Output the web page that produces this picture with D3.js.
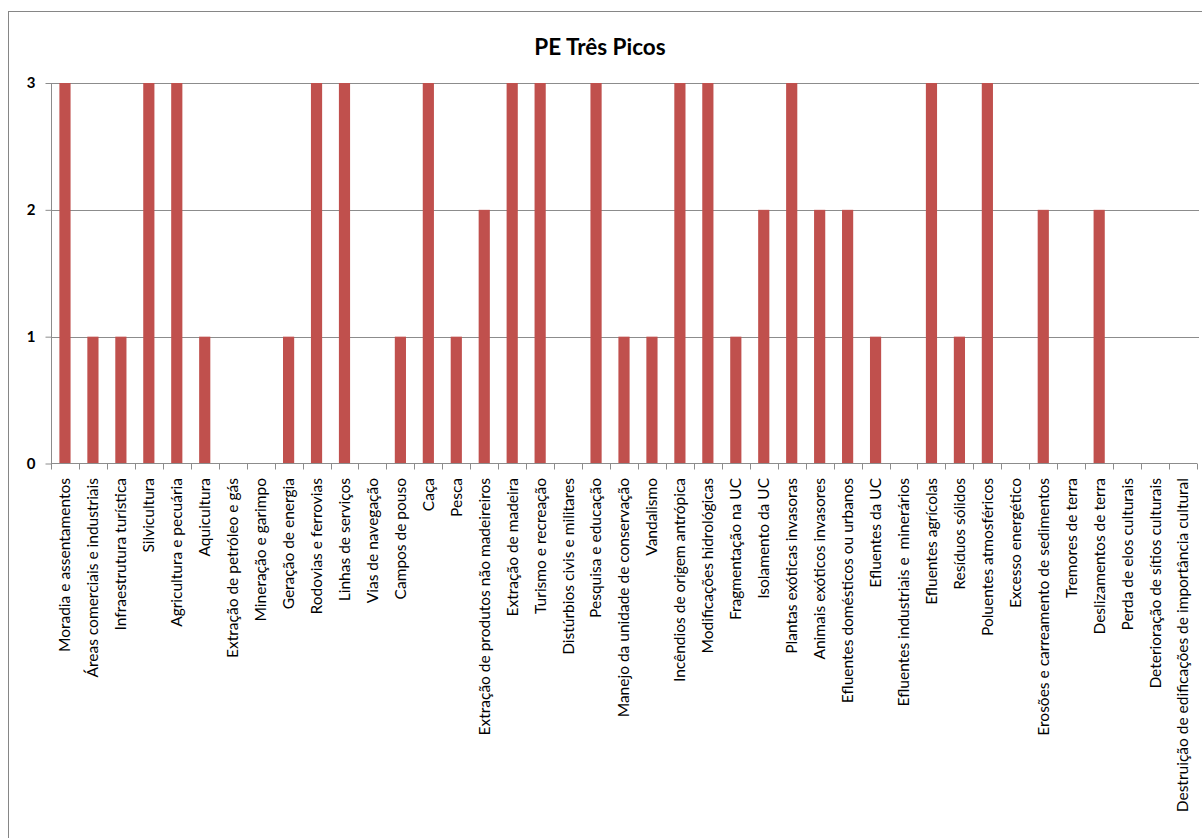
<!DOCTYPE html>
<html>
<head>
<meta charset="utf-8">
<script src="https://cdn.jsdelivr.net/npm/d3@7"></script>
<style>
  html, body { margin: 0; padding: 0; background: #fff; }
  svg { display: block; }
  text { font-family: Lato, "Open Sans", sans-serif; fill: #000; }
</style>
</head>
<body>
<svg id="chart" width="1202" height="838"></svg>
<script>
// Ameaças e intensidade (0–3) para o PE Três Picos
const categories = [
  "Moradia e assentamentos",
  "Áreas comerciais e industriais",
  "Infraestrutura turística",
  "Silvicultura",
  "Agricultura e pecuária",
  "Aquicultura",
  "Extração de petróleo e gás",
  "Mineração e garimpo",
  "Geração de energia",
  "Rodovias e ferrovias",
  "Linhas de serviços",
  "Vias de navegação",
  "Campos de pouso",
  "Caça",
  "Pesca",
  "Extração de produtos não madeireiros",
  "Extração de madeira",
  "Turismo e recreação",
  "Distúrbios civis e militares",
  "Pesquisa e educação",
  "Manejo da unidade de conservação",
  "Vandalismo",
  "Incêndios de origem antrópica",
  "Modificações hidrológicas",
  "Fragmentação na UC",
  "Isolamento da UC",
  "Plantas exóticas invasoras",
  "Animais exóticos invasores",
  "Efluentes domésticos ou urbanos",
  "Efluentes da UC",
  "Efluentes industriais e  minerários",
  "Efluentes agrícolas",
  "Resíduos sólidos",
  "Poluentes atmosféricos",
  "Excesso energético",
  "Erosões e carreamento de sedimentos",
  "Tremores de terra",
  "Deslizamentos de terra",
  "Perda de elos culturais",
  "Deterioração de sítios culturais",
  "Destruição de edificações de importância cultural"
];

const values = [
  3, 1, 1, 3, 3, 1, 0, 0, 1, 3,
  3, 0, 1, 3, 1, 2, 3, 3, 0, 3,
  1, 1, 3, 3, 1, 2, 3, 2, 2, 1,
  0, 3, 1, 3, 0, 2, 0, 2, 0, 0,
  0
];

const yTicks = [0, 1, 2, 3];
const title = "PE Três Picos";

const svg = d3.select("#chart");

// chart frame
svg.append("rect")
  .attr("x", 8.5).attr("y", 11.5)
  .attr("width", 1300).attr("height", 900)
  .attr("fill", "#fff")
  .attr("stroke", "#868686")
  .attr("stroke-width", 1);

const plot = { left: 51, right: 1197, top: 83, bottom: 463.5 };

const x = d3.scaleBand()
  .domain(categories)
  .range([plot.left, plot.right])
  .paddingInner(0.6)
  .paddingOuter(0.3);

const y = d3.scaleLinear()
  .domain([0, 3])
  .range([plot.bottom, plot.top]);

// horizontal gridlines
svg.append("g")
  .selectAll("line")
  .data(yTicks.filter(d => d > 0))
  .join("line")
  .attr("x1", plot.left)
  .attr("x2", 1199)
  .attr("y1", d => Math.round(y(d)) + 0.5)
  .attr("y2", d => Math.round(y(d)) + 0.5)
  .attr("stroke", "#8c8c8c")
  .attr("stroke-width", 1);

// bars
svg.append("g")
  .selectAll("rect")
  .data(values.map((v, i) => ({ c: categories[i], v })))
  .join("rect")
  .attr("x", d => x(d.c))
  .attr("width", x.bandwidth())
  .attr("y", d => y(d.v))
  .attr("height", d => y(0) - y(d.v))
  .attr("fill", "#C0504D");

// y axis
const yAxis = svg.append("g")
  .attr("transform", `translate(${plot.left + 0.5},0)`)
  .call(d3.axisLeft(y).tickValues(yTicks).tickFormat(d3.format("d")).tickSize(6).tickPadding(10));
yAxis.select(".domain").attr("stroke", "#8c8c8c").attr("d", `M0,${plot.top}V${plot.bottom}`);
yAxis.selectAll(".tick line").attr("stroke", "#8c8c8c");
yAxis.selectAll(".tick text")
  .style("font-size", "15px")
  .style("font-weight", "bold")
  .attr("fill", "#222");

// x axis with ticks between categories
const boundaries = d3.range(categories.length + 1).map(i => plot.left + i * (plot.right - plot.left) / categories.length);
const xg = svg.append("g");
xg.append("line")
  .attr("x1", plot.left).attr("x2", plot.right)
  .attr("y1", plot.bottom).attr("y2", plot.bottom)
  .attr("stroke", "#8c8c8c");
xg.selectAll("line.tk")
  .data(boundaries)
  .join("line")
  .attr("class", "tk")
  .attr("x1", d => Math.round(d) + 0.5).attr("x2", d => Math.round(d) + 0.5)
  .attr("y1", plot.bottom).attr("y2", plot.bottom + 6)
  .attr("stroke", "#8c8c8c");

// rotated category labels
xg.selectAll("text")
  .data(categories)
  .join("text")
  .attr("transform", d => `translate(${x(d) + x.bandwidth() / 2},478) rotate(-90)`)
  .attr("text-anchor", "end")
  .attr("dy", "0.35em")
  .style("font-size", "15.5px")
  .style("white-space", "pre")
  .text(d => d);

// title
svg.append("text")
  .attr("x", 600)
  .attr("y", 55)
  .attr("text-anchor", "middle")
  .style("font-size", "22.5px")
  .style("font-weight", "bold")
  .text(title);
</script>
</body>
</html>
